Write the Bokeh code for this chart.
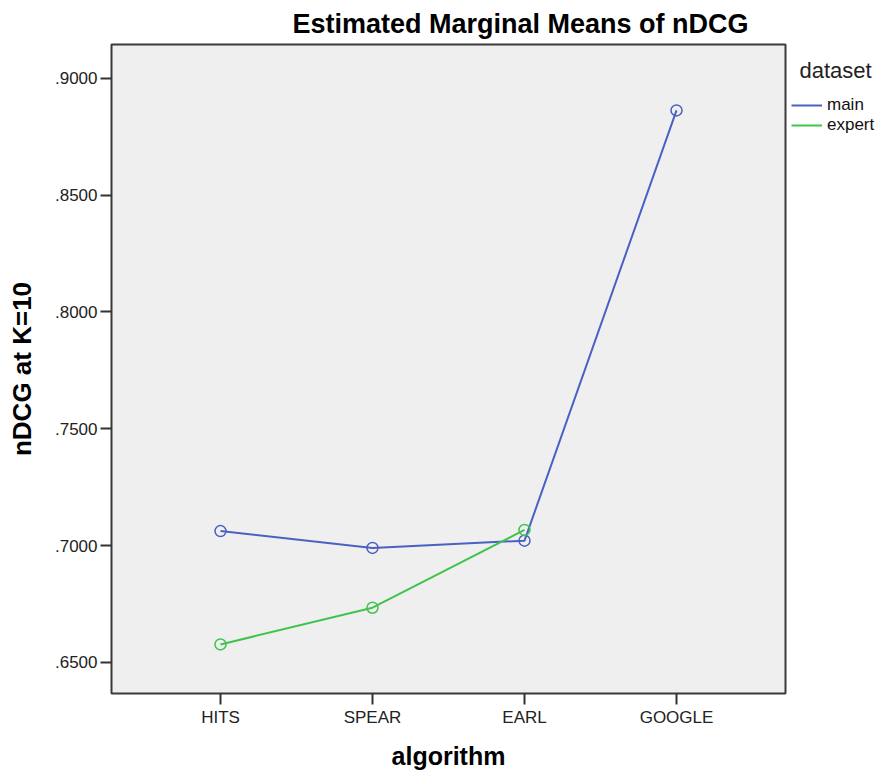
from bokeh.plotting import figure
from bokeh.layouts import row
from bokeh.models import (Range1d, FixedTicker, CustomJSTickFormatter, Legend,
                          LegendItem, Title, Label)
from bokeh.embed import file_html
from bokeh.resources import INLINE

# ---- data ----
algorithms = ["HITS", "SPEAR", "EARL", "GOOGLE"]
main_values = [0.7062, 0.6990, 0.7021, 0.8862]
expert_algorithms = ["HITS", "SPEAR", "EARL"]
expert_values = [0.6577, 0.6734, 0.7067]
y_ticks = [0.65, 0.70, 0.75, 0.80, 0.85, 0.90]
series_names = ["main", "expert"]

title_text = "Estimated Marginal Means of nDCG"
x_label = "algorithm"
y_label = "nDCG at K=10"
legend_title = "dataset"

MAIN_COLOR = "#4a60c2"
EXPERT_COLOR = "#3ec44c"
FONT = "Liberation Sans"

H = 772
WP = 788          # main figure width
WL = 92           # legend figure width
BL, BR, BT, BB = 111, 3, 44, 79
FH = H - BT - BB  # frame height (legend panel frame is aligned with it)

pos = {a: i for i, a in enumerate(algorithms)}
main_x = [pos[a] for a in algorithms]
expert_x = [pos[a] for a in expert_algorithms]

p = figure(width=WP, height=H, output_backend="svg", toolbar_location=None,
           x_range=Range1d(-0.717, len(algorithms) - 1 + 0.717),
           y_range=Range1d(0.6367, 0.9144),
           min_border_left=BL, min_border_right=BR,
           min_border_top=BT, min_border_bottom=BB)

p.add_layout(Title(text=title_text, align="left", offset=181,
                   text_font=FONT, text_font_size="27px",
                   text_font_style="bold", text_color="#000000",
                   standoff=12), "above")

p.background_fill_color = "#efefef"
p.border_fill_color = "#ffffff"
p.outline_line_color = "#3a3a3a"
p.outline_line_width = 2
p.xgrid.visible = False
p.ygrid.visible = False

# axes
p.xaxis.ticker = FixedTicker(ticks=main_x)
p.xaxis.major_label_overrides = {i: a for i, a in enumerate(algorithms)}
p.yaxis.ticker = FixedTicker(ticks=y_ticks)
p.yaxis.formatter = CustomJSTickFormatter(code="return tick.toFixed(4).replace(/^0/, '');")

for ax in (p.xaxis[0], p.yaxis[0]):
    ax.axis_line_color = None
    ax.major_tick_line_color = "#333333"
    ax.major_tick_line_width = 2
    ax.major_tick_out = 11
    ax.major_tick_in = 0
    ax.minor_tick_line_color = None
    ax.major_label_text_font = FONT
    ax.major_label_text_font_size = "17px"
    ax.major_label_text_color = "#222222"
    ax.major_label_standoff = 3
    ax.axis_label_text_font = FONT
    ax.axis_label_text_font_style = "bold"
    ax.axis_label_text_color = "#000000"

p.xaxis.axis_label = x_label
p.yaxis.axis_label = y_label
p.xaxis.axis_label_text_font_size = "25px"
p.yaxis.axis_label_text_font_size = "26px"
p.xaxis.axis_label_standoff = 12
p.yaxis.axis_label_standoff = 15

# series
p.line(main_x, main_values, line_color=MAIN_COLOR, line_width=2)
p.scatter(main_x, main_values, marker="circle", size=11, fill_color=None,
          line_color=MAIN_COLOR, line_width=1.5)
p.line(expert_x, expert_values, line_color=EXPERT_COLOR, line_width=2)
p.scatter(expert_x, expert_values, marker="circle", size=11, fill_color=None,
          line_color=EXPERT_COLOR, line_width=1.5)

# ---- legend panel (separate small figure to the right of the plot) ----
# its ranges are set away from the data, so only the legend swatches show
q = figure(width=WL, height=H, output_backend="svg", toolbar_location=None,
           x_range=Range1d(100, 101), y_range=Range1d(100, 101),
           x_axis_location=None, y_axis_location=None,
           min_border_left=0, min_border_right=0,
           min_border_top=BT, min_border_bottom=BB)
q.grid.visible = False
q.outline_line_color = None
q.background_fill_color = "#ffffff"
q.border_fill_color = "#ffffff"

r_main = q.line(main_x, main_values, line_color=MAIN_COLOR, line_width=2)
r_exp = q.line(expert_x, expert_values, line_color=EXPERT_COLOR, line_width=2)

q.add_layout(Label(x=11, y=FH - 26, x_units="screen", y_units="screen",
                   text=legend_title, text_font=FONT, text_font_size="22px",
                   text_color="#222222", text_baseline="alphabetic"))

legend = Legend(items=[LegendItem(label=series_names[0], renderers=[r_main]),
                       LegendItem(label=series_names[1], renderers=[r_exp])],
                location=(3, FH - 51 - 40),
                label_text_font=FONT, label_text_font_size="17px",
                label_text_color="#111111",
                glyph_width=31, glyph_height=20, label_height=20,
                label_standoff=5, spacing=0, padding=0, margin=0,
                border_line_color=None, background_fill_alpha=0)
q.add_layout(legend, "center")

open("out.html", "w").write(file_html(row(p, q), INLINE))
